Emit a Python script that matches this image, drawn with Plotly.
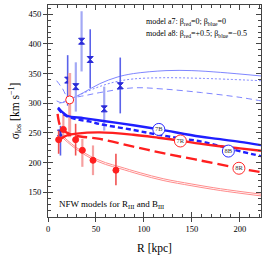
import plotly.graph_objects as go

# ---------------- data ----------------
# thick model curves
b7_R = [10.5, 15, 20, 37, 54, 89, 116, 158, 177, 200, 222]
b7_s = [293, 285, 279, 275, 271, 263, 256, 244, 240, 235, 229.5]
b8_R = [10.5, 15, 20, 30, 44, 54, 89, 115, 138, 158, 177, 188, 222]
b8_s = [291, 283, 278, 273, 269, 265, 255, 247, 241, 236, 229, 224, 211]
r7_R = [13, 16, 20, 30, 54, 89, 115, 138, 158, 177, 200, 222]
r7_s = [240, 243, 246, 249, 251, 247, 242, 237, 232, 228, 224, 220]
r8_R = [10, 12, 15, 24, 54, 89, 120, 158, 199, 222]
r8_s = [282, 265, 256, 247, 240, 227, 216, 204, 190.6, 184]

# thin NFW curves (blue)
bn1_R = [9, 14, 20, 37, 54, 72, 89, 123, 150, 180, 222]
bn1_s = [304, 301, 304, 318, 333, 344, 350, 355, 355, 352, 346]
bn2_R = [12, 20, 30, 50, 70, 89, 120, 160, 222]
bn2_s = [300, 305, 312, 326, 336, 341, 343, 342, 338]
bn3_R = [9, 15, 21, 35, 54, 89, 120, 160, 200, 222]
bn3_s = [338, 325, 310, 312, 318, 326, 324, 318, 310, 304]
# thin NFW curves (red, double line)
rn1_R = [12, 20, 30, 44, 60, 75, 96, 120, 150, 180, 222]
rn1_s = [250, 238, 225, 211, 200, 193, 183, 173, 164, 156, 147]
rn2_R = [12, 20, 30, 44, 60, 75, 96, 120, 150, 180, 222]
rn2_s = [247, 235, 222, 208, 197, 190, 180, 170, 161, 153, 144]

# observed points
bd_R = [13, 20.5, 44, 75.3]
bd_s = [250, 339, 373.7, 329.6]
bd_up = [262, 381, 424.6, 377]
bd_lo = [212, 296, 325.8, 283]
bl_R = [29, 35, 58.6]
bl_s = [328, 404.5, 290.6]
bl_up = [369, 455, 328]
bl_lo = [286, 353.6, 254]

rd_R = [11.1, 28.8, 70.8]
rd_s = [238.7, 238.7, 187.3]
rd_up = [254, 265.5, 215]
rd_lo = [215, 212, 162]
rl_R = [16, 35.8, 46.9]
rl_s = [256, 220.8, 204]
rl_up = [285, 240, 229]
rl_lo = [243, 193, 179]
ro_R = [22.6]
ro_s = [305.7]
ro_up = [351]
ro_lo = [243]

lab_text = ["7B", "7R", "8B", "8R"]
lab_R = [115.5, 138, 188, 199]
lab_s = [256, 236.5, 219.5, 190.6]
lab_col = ["#2a2aff", "#ff2a2a", "#2a2aff", "#ff2a2a"]

x_ticks = [0, 50, 100, 150, 200]
y_ticks = [150, 200, 250, 300, 350, 400, 450]

FONT = "Liberation Serif"
BLUE = "#1f1fff"
RED = "#ff1f1f"
LBLUE = "#7f86ff"
PINK = "#ff8c8c"

fig = go.Figure()

def line(R, s, color, width, dash="solid"):
    fig.add_trace(go.Scatter(x=R, y=s, mode="lines", line=dict(color=color, width=width, dash=dash, shape="spline"),
                             showlegend=False, hoverinfo="skip"))

# thin NFW curves
line(bn1_R, bn1_s, LBLUE, 1)
line(bn2_R, bn2_s, LBLUE, 1, "2px,2px")
line(bn3_R, bn3_s, LBLUE, 1, "6px,4px")
line(rn1_R, rn1_s, PINK, 1)
line(rn2_R, rn2_s, PINK, 1)

def pts(R, s, up, lo, ecol, ethick, mcol, sym, msize, mline=None, fill=None):
    fig.add_trace(go.Scatter(
        x=R, y=s, mode="markers",
        error_y=dict(type="data", symmetric=False,
                     array=[u - v for u, v in zip(up, s)],
                     arrayminus=[v - l for v, l in zip(s, lo)],
                     color=ecol, thickness=ethick, width=0),
        marker=dict(symbol=sym, size=msize, color=fill if fill else mcol,
                    line=dict(color=mline if mline else mcol, width=1)),
        showlegend=False, hoverinfo="skip"))

pts(bl_R, bl_s, bl_up, bl_lo, "#a3a9f5", 2.2, "#2b2bd8", "hourglass", 6)
pts(bd_R, bd_s, bd_up, bd_lo, "#5a62ea", 1.6, "#2b2bd8", "hourglass", 6)
pts(ro_R, ro_s, ro_up, ro_lo, "#f6a6a6", 3, "white", "circle", 8, mline=RED, fill="white")
pts(rl_R, rl_s, rl_up, rl_lo, "#f6a0a0", 2.2, RED, "circle", 6)
pts(rd_R, rd_s, rd_up, rd_lo, "#f05050", 1.6, RED, "circle", 6)

# thick model curves
line(b7_R, b7_s, BLUE, 2.4)
line(b8_R, b8_s, BLUE, 2.4, "5px,3px")
line(r7_R, r7_s, RED, 2.4)
line(r8_R, r8_s, RED, 2.4, "11px,5px")

# circled labels
fig.add_trace(go.Scatter(
    x=lab_R, y=lab_s, mode="markers+text", text=lab_text, textposition="middle center",
    textfont=dict(family=FONT, size=6.5, color="#333333"),
    marker=dict(symbol="circle", size=12, color="white", line=dict(color=lab_col, width=1)),
    showlegend=False, hoverinfo="skip"))

# annotations
fig.add_annotation(x=0.45, y=0.918, xref="paper", yref="paper", xanchor="left", yanchor="middle",
                   text="model a7: β<sub>red</sub>=0; β<sub>blue</sub>=0", showarrow=False,
                   font=dict(family=FONT, size=8, color="black"))
fig.add_annotation(x=0.45, y=0.862, xref="paper", yref="paper", xanchor="left", yanchor="middle",
                   text="model a8: β<sub>red</sub>=+0.5; β<sub>blue</sub>=−0.5", showarrow=False,
                   font=dict(family=FONT, size=8, color="black"))
fig.add_annotation(x=0.04, y=0.06, xref="paper", yref="paper", xanchor="left", yanchor="middle",
                   text="NFW models for R<sub>III</sub> and B<sub>III</sub>", showarrow=False,
                   font=dict(family=FONT, size=9, color="black"))

XR = [0, 222]
YR = [108.5, 465.5]
axcol = "#444444"

fig.update_layout(
    width=266, height=266,
    margin=dict(l=48, r=5, t=5, b=49),
    paper_bgcolor="white", plot_bgcolor="white",
    font=dict(family=FONT, size=8, color="black"),
    xaxis=dict(range=XR, tickvals=x_ticks, ticks="outside", ticklen=4, tickcolor=axcol,
               showline=True, linecolor=axcol, linewidth=1, mirror=False, showgrid=False, zeroline=False,
               tickfont=dict(family=FONT, size=8.5),
               title=dict(text="R [kpc]", font=dict(family=FONT, size=11.5), standoff=10)),
    yaxis=dict(range=YR, tickvals=y_ticks, ticks="outside", ticklen=4, tickcolor=axcol,
               showline=True, linecolor=axcol, linewidth=1, mirror=False, showgrid=False, zeroline=False,
               tickfont=dict(family=FONT, size=8.5),
               title=dict(text="σ<sub>los</sub> [km s<sup>−1</sup>]", font=dict(family=FONT, size=11.5), standoff=6)),
    xaxis2=dict(range=XR, overlaying="x", anchor="y", side="bottom", tickvals=x_ticks,
                ticks="inside", ticklen=5, tickcolor=axcol, showticklabels=False,
                minor=dict(dtick=10, tick0=0, ticks="inside", ticklen=3, tickcolor=axcol),
                showline=True, linecolor=axcol, linewidth=1, mirror="ticks", showgrid=False, zeroline=False),
    yaxis2=dict(range=YR, overlaying="y", anchor="x", side="left", tickvals=y_ticks,
                ticks="inside", ticklen=5, tickcolor=axcol, showticklabels=False,
                minor=dict(dtick=10, tick0=0, ticks="inside", ticklen=3, tickcolor=axcol),
                showline=True, linecolor=axcol, linewidth=1, mirror="ticks", showgrid=False, zeroline=False),
)

# dummy invisible trace to activate overlay axes
fig.add_trace(go.Scatter(x=[XR[0]], y=[YR[0]], xaxis="x2", yaxis="y2", mode="markers",
                         marker=dict(opacity=0), showlegend=False, hoverinfo="skip"))

fig.write_html("out.html", config={"displayModeBar": False, "staticPlot": True},
               post_script="document.body.style.margin='0';")
